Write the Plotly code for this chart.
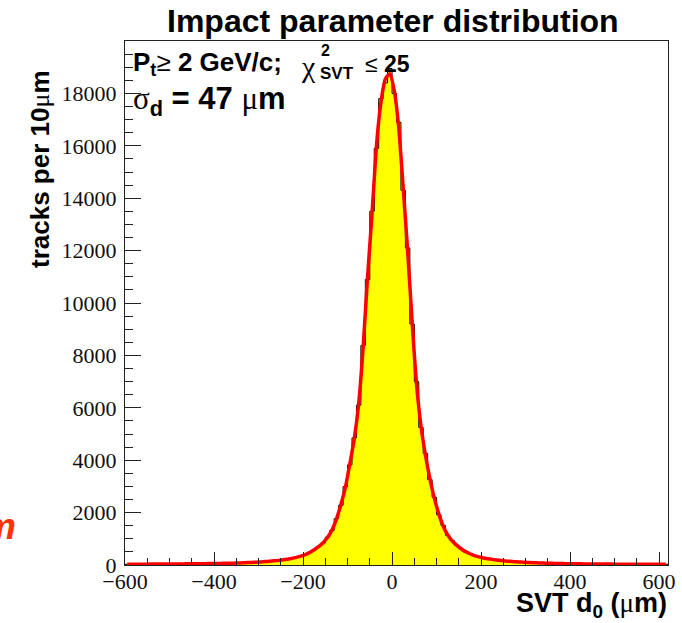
import plotly.graph_objects as go

# ---------------- data ----------------
bin_width = 10
bin_lo = -600
# fitted curve values at bin centres (-595 ... 615)
fit_values = [
    30, 30, 31, 32, 33, 34, 35, 36, 37, 38,
    40, 41, 42, 44, 45, 47, 49, 51, 53, 55,
    58, 61, 64, 67, 71, 78, 84, 91, 99, 108,
    118, 130, 143, 158, 176, 197, 222, 252, 290, 338,
    400, 480, 580, 700, 850, 1050, 1330, 1750, 2300, 2950,
    3850, 4800, 6150, 8300, 11000, 13400, 16000, 17650, 18550, 18750,
    18100, 16700, 14400, 12000, 9300, 6900, 5300, 4200, 3300, 2550,
    1950, 1480, 1150, 920, 760, 620, 510, 430, 360, 310,
    270, 240, 214, 192, 172, 155, 140, 127, 116, 106,
    97, 89, 82, 76, 70, 65, 61, 57, 54, 51,
    48, 46, 44, 42, 40, 38, 37, 36, 35, 34,
    33, 32, 31, 30, 30, 29, 29, 28, 28, 27,
    27, 26,
]
# histogram contents per 10 um bin
hist_values = [
    28, 33, 29, 35, 31, 36, 33, 38, 35, 40,
    38, 43, 40, 46, 43, 49, 47, 53, 50, 57,
    56, 63, 61, 70, 68, 80, 82, 94, 97, 111,
    115, 133, 140, 161, 172, 201, 218, 257, 286, 345,
    395, 488, 572, 712, 842, 1065, 1320, 1770, 2280, 2990,
    3820, 4850, 6100, 8380, 10900, 13500, 15900, 17800, 18400, 18950,
    18000, 16900, 14300, 12100, 9200, 7000, 5250, 4260, 3260, 2590,
    1920, 1510, 1130, 935, 750, 630, 505, 438, 355, 316,
    266, 245, 210, 196, 169, 158, 137, 130, 113, 108,
    95, 91, 80, 78, 68, 67, 59, 58, 53, 52,
    47, 47, 43, 43, 39, 39, 36, 37, 34, 35,
    32, 33, 30, 31, 29, 30, 28, 29, 27, 28,
    26, 27,
]
x_tick_vals = [-600, -400, -200, 0, 200, 400, 600]
x_tick_text = ["\u2212600", "\u2212400", "\u2212200", "0", "200", "400", "600"]
y_tick_vals = [0, 2000, 4000, 6000, 8000, 10000, 12000, 14000, 16000, 18000]
y_tick_text = ["0", "2000", "4000", "6000", "8000", "10000", "12000", "14000", "16000", "18000"]

n_bins = len(hist_values)
edges = [bin_lo + i * bin_width for i in range(n_bins + 1)]
centers = [bin_lo + (i + 0.5) * bin_width for i in range(n_bins)]

# ---------------- layout geometry ----------------
W, H = 682, 623
L, R, T, B = 125, 14, 41, 58
pw, ph = W - L - R, H - T - B


def px(x):
    return (x - L) / pw


def py(y):
    return (H - B - y) / ph


fig = go.Figure()

# histogram step outline with yellow fill
step_x = [edges[0]]
step_y = [0]
for i, v in enumerate(hist_values):
    step_x += [edges[i], edges[i + 1]]
    step_y += [v, v]
step_x.append(edges[-1])
step_y.append(0)
fig.add_trace(go.Scatter(
    x=step_x, y=step_y, mode="lines", fill="tozeroy",
    fillcolor="#ffff00", line=dict(color="#000000", width=1),
    hoverinfo="skip", showlegend=False,
))
# fit curve
fig.add_trace(go.Scatter(
    x=centers, y=fit_values, mode="lines",
    line=dict(color="#ff0000", width=3.5, shape="spline", smoothing=0.6),
    showlegend=False,
))

serif = "Liberation Serif"
sans = "Liberation Sans"

fig.update_layout(
    width=W, height=H,
    margin=dict(l=L, r=R, t=T, b=B, autoexpand=False),
    paper_bgcolor="white", plot_bgcolor="white",
    showlegend=False, hovermode=False,
    xaxis=dict(
        range=[-600, 620], showgrid=False, zeroline=False,
        showline=True, linecolor="#222222", linewidth=1, mirror=True,
        tickvals=x_tick_vals, ticktext=x_tick_text,
        ticks="inside", ticklen=13, tickcolor="#222222", tickwidth=1,
        minor=dict(dtick=50, tick0=0, ticks="inside", ticklen=7, tickcolor="#222222"),
        tickfont=dict(family=serif, size=22, color="#111111"),
        ticklabelstandoff=-3, automargin=False,
    ),
    yaxis=dict(
        range=[0, 20000], showgrid=False, zeroline=False,
        showline=True, linecolor="#222222", linewidth=1, mirror=True,
        tickvals=y_tick_vals, ticktext=y_tick_text,
        ticks="inside", ticklen=16, tickcolor="#222222", tickwidth=1,
        minor=dict(dtick=500, tick0=0, ticks="inside", ticklen=8, tickcolor="#222222"),
        tickfont=dict(family=serif, size=22, color="#111111"),
        ticklabelstandoff=3, automargin=False,
    ),
)

ann = []
# title
ann.append(dict(x=px(393), y=py(21), xref="paper", yref="paper",
                text="<b>Impact parameter distribution</b>", showarrow=False,
                font=dict(family=sans, size=32, color="black"), xanchor="center", yanchor="middle"))
# y-axis title
ann.append(dict(x=px(40), y=py(169), xref="paper", yref="paper",
                text="<b>tracks per 10</b><span style='font-family:Liberation Serif'>\u03bc</span><b>m</b>",
                textangle=-90, showarrow=False,
                font=dict(family=sans, size=26, color="black"), xanchor="center", yanchor="middle"))
# x-axis title
ann.append(dict(x=px(669), y=py(605), xref="paper", yref="paper",
                text="<b>SVT d<sub>0</sub> (</b><span style='font-family:Liberation Serif'>\u03bc</span><b>m)</b>",
                showarrow=False,
                font=dict(family=sans, size=27, color="black"), xanchor="right", yanchor="middle"))
# line 1: P_t >= 2 GeV/c; chi^2_SVT <= 25
ann.append(dict(x=px(131), y=py(64), xref="paper", yref="paper",
                text="<b>P<sub>t</sub></b>\u2265<b> 2 GeV/c;</b>",
                showarrow=False, font=dict(family=sans, size=26, color="black"),
                xanchor="left", yanchor="middle"))
ann.append(dict(x=px(299), y=py(66), xref="paper", yref="paper",
                text="\u03c7", showarrow=False, font=dict(family=serif, size=30, color="black"),
                xanchor="left", yanchor="middle"))
ann.append(dict(x=px(319), y=py(51), xref="paper", yref="paper",
                text="<b>2</b>", showarrow=False, font=dict(family=sans, size=16, color="black"),
                xanchor="left", yanchor="middle"))
ann.append(dict(x=px(318), y=py(74), xref="paper", yref="paper",
                text="<b>SVT</b>", showarrow=False, font=dict(family=sans, size=17, color="black"),
                xanchor="left", yanchor="middle"))
ann.append(dict(x=px(363), y=py(64), xref="paper", yref="paper",
                text="\u2264<b> 25</b>", showarrow=False, font=dict(family=sans, size=23, color="black"),
                xanchor="left", yanchor="middle"))
# line 2: sigma_d = 47 um
ann.append(dict(x=px(131), y=py(101), xref="paper", yref="paper",
                text="<span style='font-family:Liberation Serif'>\u03c3</span><b><sub>d</sub> = 47 </b><span style='font-family:Liberation Serif'>\u03bc</span><b>m</b>",
                showarrow=False, font=dict(family=sans, size=31, color="black"),
                xanchor="left", yanchor="middle"))
# clipped orange text at left edge
ann.append(dict(x=px(18), y=py(526), xref="paper", yref="paper",
                text="<b><i>m</i></b>", showarrow=False,
                font=dict(family=sans, size=37, color="#ff3300"),
                xanchor="right", yanchor="middle"))

fig.update_layout(annotations=ann)
fig.write_html("out.html", config={"displayModeBar": False},
               post_script="document.body.style.margin='0px';document.body.style.padding='0px';")
